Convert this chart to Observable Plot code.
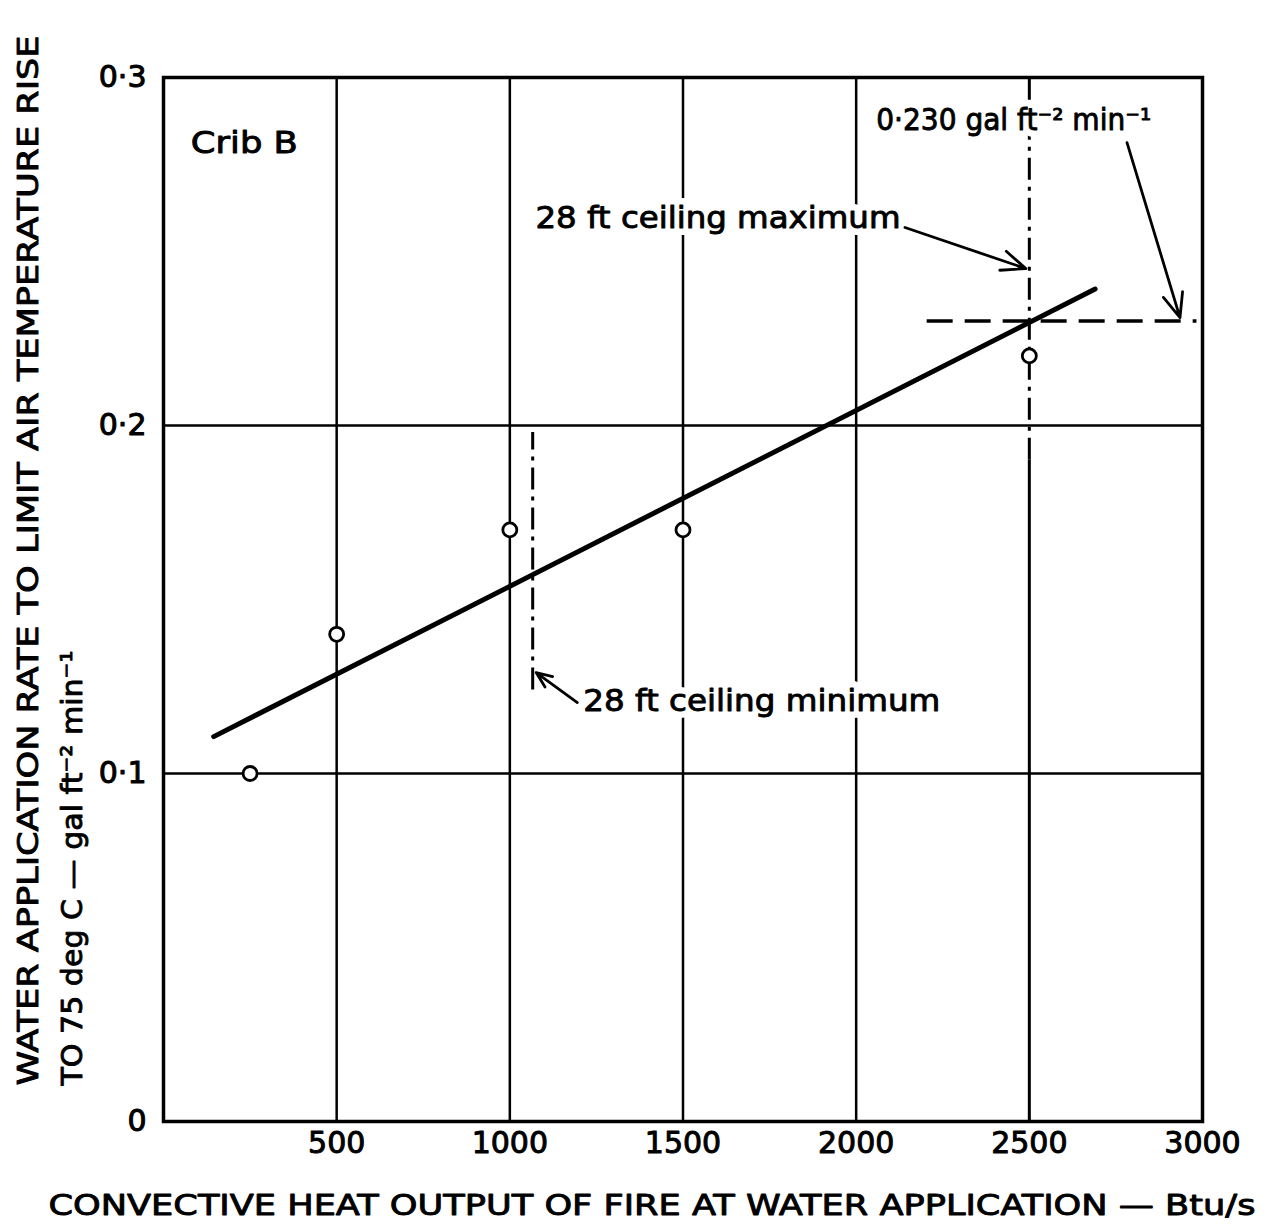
<!DOCTYPE html>
<html><head><meta charset="utf-8">
<script src="https://cdn.jsdelivr.net/npm/d3@7"></script>
<script src="https://cdn.jsdelivr.net/npm/@observablehq/plot@0.6"></script>
<style>body{margin:0;background:#fff}</style>
</head><body><div id="chart"></div>
<script>
// Measured points (Crib B)
const heatOutput = [250, 500, 1000, 1500, 2500];
const waterRate = [0.100, 0.140, 0.170, 0.170, 0.220];
// Fitted straight line end points
const fitX = [145, 2690];
const fitY = [0.1106, 0.2392];
// Axis ticks
const xTicks = [500, 1000, 1500, 2000, 2500, 3000];
const yTicks = [0, 0.1, 0.2, 0.3];
const yTickLabels = ["0", "0·1", "0·2", "0·3"];
const gridX = [500, 1000, 1500, 2000];
const gridY = [0.1, 0.2];
// Reference lines
const maxCeilingX = 2500;       // 28 ft ceiling maximum
const minCeilingX = 1066;       // 28 ft ceiling minimum
const minCeilingY = [0.124, 0.198];
const maxCeilingSplit = 0.19;
const rateLevel = 0.23;          // 0·230 gal ft-2 min-1
const rateLevelX = [2205, 2984];
// Annotations
const noteText = ["Crib B", "0·230 gal ft⁻² min⁻¹", "28 ft ceiling maximum", "28 ft ceiling minimum"];
const noteX = [79, 2058, 1074, 1212];
const noteY = [0.281, 0.2876, 0.2595, 0.1207];
const noteLen = [107, 275, 365, 357];
// Arrows
const arrowX1 = [2141, 2782, 1195];
const arrowY1 = [0.2569, 0.2813, 0.1204];
const arrowX2 = [2490, 2935, 1076];
const arrowY2 = [0.2451, 0.2310, 0.1290];
// Axis titles
const yTitle1 = "WATER APPLICATION RATE TO LIMIT AIR TEMPERATURE RISE";
const yTitle2 = "TO 75 deg C — gal ft⁻² min⁻¹";
const xTitle = "CONVECTIVE HEAT OUTPUT OF FIRE AT WATER APPLICATION — Btu/s";
const titleLen = {[yTitle1]: 1050, [yTitle2]: 435, [xTitle]: 1207};

const points = heatOutput.map((x, i) => ({x, y: waterRate[i]}));
const fit = fitX.map((x, i) => ({x, y: fitY[i]}));
const notes = noteText.map((t, i) => ({t, x: noteX[i], y: noteY[i]}));
const arrows = arrowX1.map((x1, i) => ({x1, y1: arrowY1[i], x2: arrowX2[i], y2: arrowY2[i]}));

const font = "'DejaVu Sans', sans-serif";
const ink = {fill: "#000", stroke: "#000", strokeWidth: 0.9};
const axisInk = {fill: "#000", textStroke: "#000", textStrokeWidth: 1};
const plot = Plot.plot({
  width: 1267, height: 1229,
  marginLeft: 163, marginRight: 65, marginTop: 77, marginBottom: 108,
  x: {domain: [0, 3000]},
  y: {domain: [0, 0.3]},
  style: {fontFamily: font, fontSize: "30px", color: "#000", background: "#fff"},
  marks: [
    Plot.ruleX(gridX, {stroke: "#000", strokeWidth: 2.5}),
    Plot.ruleY(gridY, {stroke: "#000", strokeWidth: 2.5}),
    Plot.ruleX([maxCeilingX], {y1: 0, y2: maxCeilingSplit, stroke: "#000", strokeWidth: 3}),
    Plot.ruleX([maxCeilingX], {y1: maxCeilingSplit, y2: 0.3, stroke: "#000", strokeWidth: 3, strokeDasharray: "22,7,4,7"}),
    Plot.ruleX([minCeilingX], {y1: minCeilingY[0], y2: minCeilingY[1], stroke: "#000", strokeWidth: 3, strokeDasharray: "22,7,4,7"}),
    Plot.ruleY([rateLevel], {x1: rateLevelX[0], x2: rateLevelX[1], stroke: "#000", strokeWidth: 3.5, strokeDasharray: "26,12"}),
    // white halos behind annotation text (cut the lines as in the original)
    Plot.text(notes, {x: "x", y: "y", text: "t", textAnchor: "start", lineAnchor: "middle", fontSize: 30,
      fill: "#fff", stroke: "#fff", strokeWidth: 14}),
    Plot.text(notes, {x: "x", y: "y", text: "t", textAnchor: "start", lineAnchor: "middle", fontSize: 30, ...ink}),
    Plot.arrow(arrows, {x1: "x1", y1: "y1", x2: "x2", y2: "y2", stroke: "#000", strokeWidth: 2.8, headLength: 14, headAngle: 45}),
    Plot.line(fit, {x: "x", y: "y", stroke: "#000", strokeWidth: 5}),
    Plot.dot(points, {x: "x", y: "y", r: 7, stroke: "#000", strokeWidth: 2.8, fill: "#fff"}),
    Plot.frame({stroke: "#000", strokeWidth: 3.5}),
    Plot.axisX(xTicks, {label: null, tickSize: 0, tickPadding: 10, fontSize: 30, tickFormat: d => String(d), ...axisInk}),
    Plot.axisY(yTicks, {label: null, tickSize: 0, tickPadding: 17, fontSize: 30,
      tickFormat: d => yTickLabels[yTicks.indexOf(d)], ...axisInk}),
    Plot.text([yTitle1], {frameAnchor: "bottom-left", rotate: -90, textAnchor: "start", lineAnchor: "middle",
      dx: -135, dy: -36, fontSize: 29, ...ink}),
    Plot.text([yTitle2], {frameAnchor: "bottom-left", rotate: -90, textAnchor: "start", lineAnchor: "middle",
      dx: -91, dy: -36, fontSize: 29, ...ink}),
    Plot.text([xTitle], {frameAnchor: "bottom-left", textAnchor: "start", lineAnchor: "middle",
      dx: -115, dy: 84, fontSize: 29, ...ink})
  ]
});
document.getElementById("chart").appendChild(plot);
d3.select(plot).selectAll("text").each(function() {
  const s = this.textContent;
  const k = noteText.indexOf(s);
  const len = k >= 0 ? noteLen[k] : titleLen[s];
  if (len) d3.select(this).attr("textLength", len).attr("lengthAdjust", "spacingAndGlyphs");
});
</script>
</body></html>
